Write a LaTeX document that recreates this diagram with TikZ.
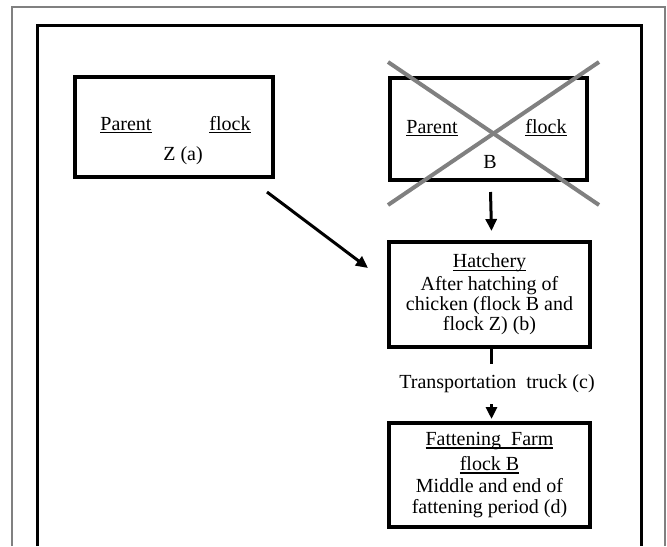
\documentclass[tikz,border=0pt]{standalone}
\usepackage{fontspec}
\setmainfont{Liberation Serif}
\usetikzlibrary{arrows.meta, calc}

% underline just below the baseline
\newcommand{\ulin}[1]{\setbox0\hbox{#1}\rlap{\rule[-1.6pt]{\wd0}{0.6pt}}\box0}

\begin{document}
\begin{tikzpicture}[
		x=0.5pt, y=-0.5pt,
		box/.style  ={rectangle,	draw=black,	line width=2pt,	inner sep=0pt,	align=center,	font=\fontsize{10}{10}\selectfont},
		txt/.style  ={inner sep=0pt,	anchor=base,	font=\fontsize{10}{10}\selectfont},
		link/.style ={line width=1.5pt,	-{Triangle[length=6pt, width=5.5pt]}},
		cross/.style={line width=2pt,	draw=black!50},
	]

	\useasboundingbox (0,0) rectangle (667,546);

	% frames
	\draw [black!50, line width=1pt] (12,546) -- (12,7) -- (665,7) -- (665,546);
	\draw [black, line width=1.5pt] (37,546) -- (37,25) -- (641,25) -- (641,546);

	% nodes
	\node [box, minimum width=99pt, minimum height=50pt] (parentZ) at (174,127) {};
	\node [txt] (parentZa) at (126,130) {\ulin{Parent}};
	\node [txt] (parentZb) at (230,130) {\ulin{flock}};
	\node [txt] (parentZc) at (183,160) {Z (a)};

	\node [box, minimum width=98.5pt, minimum height=51pt] (parentB) at (488.5,129) {};
	\node [txt] (parentBa) at (432,133) {\ulin{Parent}};
	\node [txt] (parentBb) at (546,133) {\ulin{flock}};
	\node [txt] (parentBc) at (490,168) {B};

	\node [box, minimum width=100.5pt, minimum height=52.5pt] (hatch) at (489.5,294.5)
		{\ulin{Hatchery}\\[1.5pt] After hatching of\\ chicken (flock B and\\ flock Z) (b)};

	\node [box, minimum width=100.5pt, minimum height=52pt, font=\fontsize{10}{10.5}\selectfont] (fat) at (489.5,475)
		{\ulin{Fattening\ \ Farm}\\[2pt] \ulin{flock\ B}\\[0.5pt] Middle and end of\\ fattening period (d)};

	\node [inner sep=0pt, minimum height=20pt, font=\fontsize{10}{10}\selectfont] (truck) at (497,384)
		{Transportation\ \ truck (c)};

	% crossing out
	\draw [cross] (388,62) -- (599,205);
	\draw [cross] (599,62) -- (388,205);

	% interconnections
	\coordinate (zout) at (267,192);
	\coordinate (hin) at (368,268);
	\draw [link] (zout) -- (hin);

	\draw [link] ([xshift=1pt, yshift=-5pt]parentB.south) -- ([xshift=1pt, yshift=4.5pt]hatch.north);

	\draw [line width=1.5pt] ([xshift=1pt]hatch.south) -- ([xshift=1pt]hatch.south |- truck.north);
	\draw [link] ([xshift=1pt]hatch.south |- truck.south) -- ([xshift=1pt, yshift=1pt]fat.north);

\end{tikzpicture}
\end{document}
